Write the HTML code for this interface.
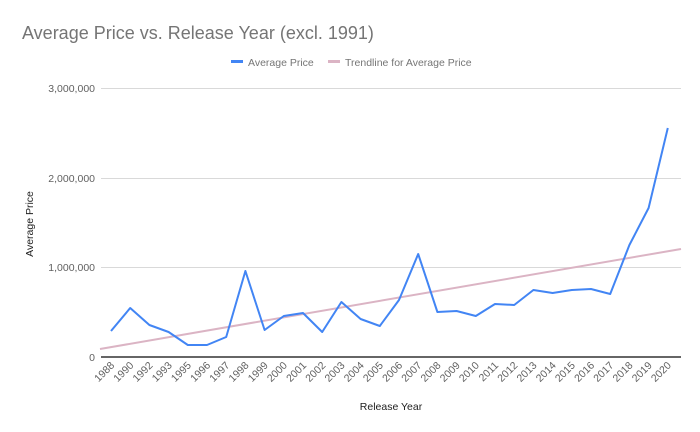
<!DOCTYPE html>
<html><head><meta charset="utf-8"><style>
body{margin:0;background:#fff;}
svg{display:block;font-family:"Liberation Sans",Arial,sans-serif;}
</style></head><body>
<svg width="700" height="432" viewBox="0 0 700 432">
<rect width="700" height="432" fill="#fff"/>
<text x="22" y="39" font-size="18" fill="#757575">Average Price vs. Release Year (excl. 1991)</text>
<rect x="231" y="60" width="12" height="3" fill="#4285f4"/>
<text x="248" y="66" font-size="10.5" fill="#757575">Average Price</text>
<rect x="328" y="60" width="12" height="3" fill="#dbb4c4"/>
<text x="345" y="66" font-size="10.5" fill="#757575">Trendline for Average Price</text>
<g stroke="#d9d9d9" stroke-width="1">
<line x1="101" y1="88.5" x2="681" y2="88.5"/>
<line x1="101" y1="178.5" x2="681" y2="178.5"/>
<line x1="101" y1="267.5" x2="681" y2="267.5"/>
</g>
<g font-size="10.5" fill="#616161" text-anchor="end">
<text x="95" y="92">3,000,000</text>
<text x="95" y="182">2,000,000</text>
<text x="95" y="271">1,000,000</text>
<text x="95" y="361">0</text>
</g>
<text transform="translate(33,224) rotate(-90)" font-size="10.5" fill="#222" text-anchor="middle">Average Price</text>
<text x="391" y="410" font-size="10.5" fill="#222" text-anchor="middle">Release Year</text>
<line x1="100" y1="349" x2="681" y2="249" stroke="#dbb4c4" stroke-width="2"/>
<polyline fill="none" stroke="#4285f4" stroke-width="2" stroke-linejoin="round" points="111,331 130.2,308 149.4,325 168.6,332 187.8,345 207,345 226.2,337 245.4,271 264.6,330 283.8,316 303,313 322.2,332 341.4,302 360.6,319 379.8,326 399,300 418.2,254 437.4,312 456.6,311 475.8,316 495,304 514.2,305 533.4,290 552.6,293 571.8,290 591,289 610.2,294 629.4,245 648.6,208 667.8,128"/>
<line x1="101" y1="357" x2="681" y2="357" stroke="#333" stroke-width="1.5"/>
<g font-size="10.5" fill="#616161" text-anchor="end" id="xl"></g>
</svg>
<script>
var yrs=[1988,1990,1992,1993,1995,1996,1997,1998,1999,2000,2001,2002,2003,2004,2005,2006,2007,2008,2009,2010,2011,2012,2013,2014,2015,2016,2017,2018,2019,2020];
var g=document.getElementById('xl'),s='';
yrs.forEach(function(y,i){var x=111+i*19.2+4,yy=366;s+='<text transform="translate('+x+','+yy+') rotate(-45)">'+y+'</text>';});
g.innerHTML=s;
</script>
</body></html>
